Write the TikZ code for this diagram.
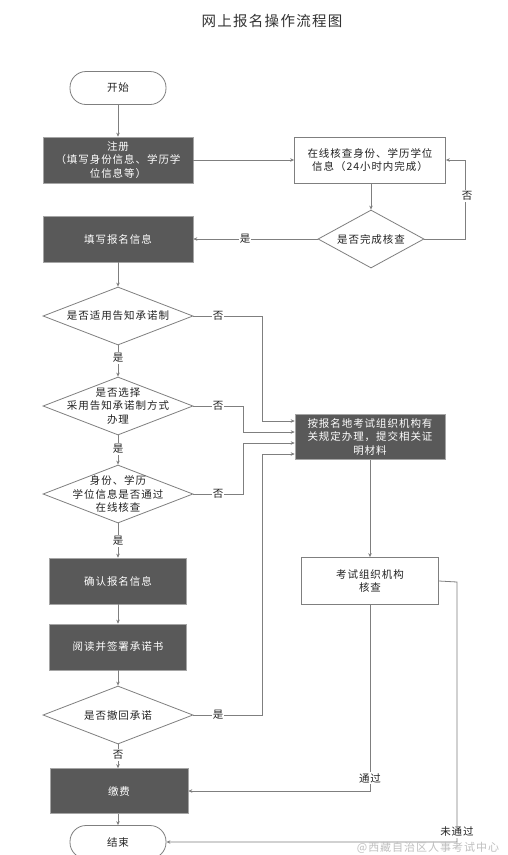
\documentclass[tikz,border=0pt]{standalone}
\usepackage{fontspec}
\setmainfont{Noto Sans CJK SC}[LetterSpace=9]
\usetikzlibrary{shapes.geometric,arrows.meta,calc}
\definecolor{darkbox}{HTML}{595959}
\definecolor{lineg}{HTML}{7F7F7F}
\definecolor{txt}{HTML}{222222}
\begin{document}
\begin{tikzpicture}[x=1pt,y=-1pt,
  every node/.style={font=\fontsize{10.5}{13.5}\selectfont, text=txt, align=center},
  term/.style={draw=lineg, line width=0.8pt, rounded corners=16pt, minimum width=96pt, minimum height=33pt, inner sep=0pt},
  darkbox/.style={draw=lineg!70, fill=darkbox, text=white, line width=0.6pt, minimum height=46pt, inner sep=0pt},
  whitebox/.style={draw=lineg, fill=white, line width=0.8pt, minimum height=46pt, inner sep=0pt},
  dia/.style={draw=lineg, diamond, line width=0.8pt, inner sep=0pt, minimum width=150pt, minimum height=58pt},
  arr/.style={draw=lineg, line width=0.8pt, -{Stealth[length=4pt,width=3.5pt]}},
  ln/.style={draw=lineg, line width=0.8pt},
  lab/.style={fill=white, inner sep=1pt}
]
\useasboundingbox[fill=white] (0,0) rectangle (508,855);

\node[font=\fontsize{14.5}{16}\selectfont, text=black!80] (title) at (272,21) {网上报名操作流程图};

% left column
\node[term] (start) at (118,88) {开始};
\node[darkbox, minimum width=150pt] (reg) at (118,160) {注册\\（填写身份信息、学历学\\位信息等）};
\node[darkbox, minimum width=150pt] (fill) at (118,239) {填写报名信息};
\node[dia] (d1) at (118,316) {};
\node at (d1) {是否适用告知承诺制};
\node[dia] (d2) at (118,406) {};
\node at (d2) {是否选择\\采用告知承诺制方式\\办理};
\node[dia] (d3) at (118,494) {};
\node at (d3) {身份、学历\\学位信息是否通过\\在线核查};
\node[darkbox, minimum width=137pt] (confirm) at (118,581) {确认报名信息};
\node[darkbox, minimum width=137pt] (read) at (118,647) {阅读并签署承诺书};
\node[dia] (d4) at (118,715) {};
\node at (d4) {是否撤回承诺};
\node[darkbox, minimum width=138pt, minimum height=45pt] (pay) at (119,791) {缴费};
\node[term] (end) at (118,842) {结束};

% right column
\node[whitebox, minimum width=151pt] (check) at (370,160) {在线核查身份、学历学位\\信息（24小时内完成）};
\node[dia, minimum width=106pt] (d0) at (371,239) {};
\node at (d0) {是否完成核查};
\node[darkbox, minimum width=150pt, minimum height=45pt] (rb) at (370,437) {按报名地考试组织机构有\\关规定办理，提交相关证\\明材料};
\node[whitebox, minimum width=137pt, minimum height=47pt] (review) at (370,581) {考试组织机构\\核查};

% connectors
\draw[arr] (start) -- (reg);
\draw[arr] (reg) -- (check);
\draw[arr] (check.south -| d0.north) -- (d0);
\draw[arr] (d0.west) -- (fill.east);
\node[lab] at (245,239) {是};
\coordinate (c0) at (465,239);
\draw[arr] (d0.east) -- (c0) |- (check.east);
\node[lab] at (467,196) {否};

\draw[arr] (fill) -- (d1);
\draw[arr] (d1) -- (d2);
\node[lab] at (118,358) {是};
\draw[arr] (d2) -- (d3);
\node[lab] at (118,449) {是};
\draw[arr] (d3) -- (confirm);
\node[lab] at (118,541) {是};
\draw[arr] (confirm) -- (read);
\draw[arr] (read) -- (d4);
\draw[arr] (d4.south) -- (d4.south |- pay.north);
\node[lab] at (118,755) {否};
\draw[arr] (pay.south -| end.north) -- (end);

\coordinate (c1) at (262,316);
\coordinate (c2) at (243,406);
\coordinate (c3) at (243,494);
\coordinate (c4) at (262,715);
\draw[arr] (d1.east) -- (c1) |- ([yshift=16pt]rb.west);
\draw[arr] (d2.east) -- (c2) |- ([yshift=5pt]rb.west);
\draw[arr] (d3.east) -- (c3) |- ([yshift=-6pt]rb.west);
\draw[arr] (d4.east) -- (c4) |- ([yshift=-17pt]rb.west);
\node[lab] at (218,316) {否};
\node[lab] at (218,406) {否};
\node[lab] at (218,494) {否};
\node[lab] at (218,715) {是};

\draw[arr] (rb) -- (review);
\draw[arr] (review.south) |- (pay.east);
\node[lab] at (370,778) {通过};
\coordinate (c5) at (457,582);
\draw[arr] (review.east) -- (c5) |- (end.east);
\node[lab] at (457,832) {未通过};

\node[text=black!25, font=\fontsize{11}{12}\selectfont] (wm) at (428,848) {@西藏自治区人事考试中心};
\end{tikzpicture}
\end{document}
